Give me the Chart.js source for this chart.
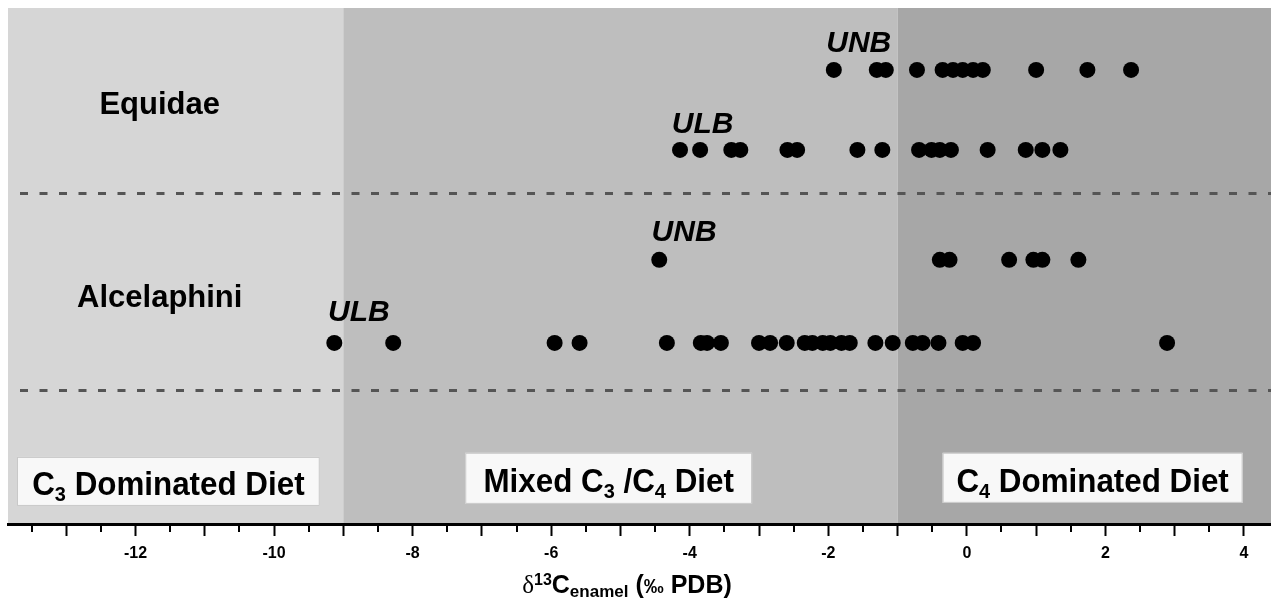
<!DOCTYPE html>
<html>
<head>
<meta charset="utf-8">
<script src="https://cdn.jsdelivr.net/npm/chart.js@4.4.1/dist/chart.umd.min.js"></script>
<style>
  html, body { margin: 0; padding: 0; background: #fff; }
  canvas { display: block; }
</style>
</head>
<body>
<canvas id="chart" width="1271" height="602"></canvas>
<script>
// d13C enamel values (per mil PDB)
const categories = ['Equidae UNB', 'Equidae ULB', 'Alcelaphini UNB', 'Alcelaphini ULB'];
const rowY = [8.8, 7.25, 5.12, 3.51];

const equidaeUNB = [-1.92, -1.30, -1.17, -0.72, -0.35, -0.20, -0.06, 0.09, 0.23, 1.00, 1.74, 2.37];
const equidaeULB = [-4.14, -3.85, -3.40, -3.27, -2.59, -2.45, -1.58, -1.22, -0.69, -0.51, -0.39, -0.23, 0.30, 0.85, 1.09, 1.35];
const alcelaphiniUNB = [-4.44, -0.39, -0.25, 0.61, 0.96, 1.09, 1.61];
const alcelaphiniULB = [-9.13, -8.28, -5.95, -5.59, -4.33, -3.84, -3.75, -3.55, -3.00, -2.84, -2.60, -2.34, -2.23, -2.08, -1.97, -1.81, -1.69, -1.32, -1.07, -0.78, -0.64, -0.41, -0.06, 0.09, 2.89];

const series = [equidaeUNB, equidaeULB, alcelaphiniUNB, alcelaphiniULB];

const xMin = -13.84, xMax = 4.39;
const xTicks = [-13, -12, -11, -10, -9, -8, -7, -6, -5, -4, -3, -2, -1, 0, 1, 2, 3, 4];
const xTickLabels = [-12, -10, -8, -6, -4, -2, 0, 2, 4];

// diet zones
const zoneEdges = [xMin, -9, -1, xMax];
const zoneColors = ['#d6d6d6', '#bebebe', '#a7a7a7'];
const dividerY = [6.41, 2.60];

const FONT = '"Liberation Sans", Arial, sans-serif';

// draws a run of text pieces (for sub/superscripts) centred on x
function drawRich(ctx, parts, cx, cy, squeeze) {
  squeeze = squeeze || 1;
  let total = 0;
  parts.forEach(p => {
    ctx.font = p.font;
    p.w = ctx.measureText(p.t).width;
    total += p.w;
  });
  ctx.save();
  ctx.translate(cx, cy);
  ctx.scale(squeeze, 1);
  let x = -total / 2;
  ctx.textAlign = 'left';
  ctx.textBaseline = 'alphabetic';
  parts.forEach(p => {
    ctx.font = p.font;
    ctx.fillText(p.t, x, p.dy || 0);
    x += p.w;
  });
  ctx.restore();
}

const backdrop = {
  id: 'backdrop',
  beforeDraw(chart) {
    const { ctx, chartArea: a, scales: { x, y } } = chart;
    ctx.save();
    ctx.fillStyle = '#fff';
    ctx.fillRect(0, 0, chart.width, chart.height);
    for (let i = 0; i < zoneColors.length; i++) {
      const x0 = x.getPixelForValue(zoneEdges[i]);
      const x1 = x.getPixelForValue(zoneEdges[i + 1]);
      ctx.fillStyle = zoneColors[i];
      ctx.fillRect(x0, a.top, x1 - x0, a.bottom - a.top);
    }
    // dashed separators
    ctx.strokeStyle = '#555';
    ctx.lineWidth = 3;
    ctx.setLineDash([8, 11.5]);
    dividerY.forEach(v => {
      const py = Math.round(y.getPixelForValue(v)) + 0.5;
      ctx.beginPath();
      ctx.moveTo(a.left + 12, py);
      ctx.lineTo(a.right, py);
      ctx.stroke();
    });
    ctx.setLineDash([]);

    // diet boxes
    const boxes = [
      { x0: -13.71, x1: -9.34, y0: 1.30, y1: 0.35,
        parts: [['C', 33], ['3', 21, 6], [' Dominated Diet', 33]] },
      { x0: -7.24, x1: -3.10, y0: 1.38, y1: 0.39,
        parts: [['Mixed C', 33], ['3', 21, 6], [' /C', 33], ['4', 21, 6], [' Diet', 33]] },
      { x0: -0.35, x1: 3.98, y0: 1.38, y1: 0.41,
        parts: [['C', 33], ['4', 21, 6], [' Dominated Diet', 33]] }
    ];
    boxes.forEach(b => {
      const bx0 = x.getPixelForValue(b.x0), bx1 = x.getPixelForValue(b.x1);
      const by0 = y.getPixelForValue(b.y0), by1 = y.getPixelForValue(b.y1);
      ctx.fillStyle = '#f8f8f8';
      ctx.fillRect(bx0, by0, bx1 - bx0, by1 - by0);
      ctx.strokeStyle = '#c8c8c8';
      ctx.lineWidth = 1;
      ctx.strokeRect(bx0 + 0.5, by0 + 0.5, bx1 - bx0 - 1, by1 - by0 - 1);
      ctx.fillStyle = '#000';
      const parts = b.parts.map(p => ({ t: p[0], font: 'bold ' + p[1] + 'px ' + FONT, dy: p[2] || 0 }));
      drawRich(ctx, parts, (bx0 + bx1) / 2, (by0 + by1) / 2 + 14, 0.95);
    });
    ctx.restore();
  },
  afterDatasetsDraw(chart) {
    const { ctx, scales: { x, y } } = chart;
    ctx.save();
    ctx.fillStyle = '#000';
    ctx.textBaseline = 'middle';
    // taxon names
    ctx.font = 'bold 31px ' + FONT;
    ctx.textAlign = 'center';
    ctx.fillText('Equidae', x.getPixelForValue(-11.65), y.getPixelForValue(8.12));
    ctx.fillText('Alcelaphini', x.getPixelForValue(-11.65), y.getPixelForValue(4.38));
    // site labels
    ctx.font = 'italic bold 30px ' + FONT;
    ctx.textAlign = 'left';
    ctx.fillText('UNB', x.getPixelForValue(-2.03), y.getPixelForValue(9.3));
    ctx.fillText('ULB', x.getPixelForValue(-4.26), y.getPixelForValue(7.73));
    ctx.fillText('UNB', x.getPixelForValue(-4.55), y.getPixelForValue(5.64));
    ctx.fillText('ULB', x.getPixelForValue(-9.22), y.getPixelForValue(4.09));
    ctx.restore();
  },
  afterDraw(chart) {
    const { ctx, chartArea: a, scales: { x } } = chart;
    ctx.save();
    // half-unit minor ticks
    ctx.strokeStyle = '#000';
    ctx.lineWidth = 2;
    for (let v = Math.ceil(xMin) - 0.5; v < xMax; v += 1) {
      if (v < xMin) continue;
      const px = Math.round(x.getPixelForValue(v));
      ctx.beginPath();
      ctx.moveTo(px, a.bottom);
      ctx.lineTo(px, a.bottom + 8);
      ctx.stroke();
    }
    // axis title
    ctx.fillStyle = '#000';
    drawRich(ctx, [
      { t: '\u03B4', font: '25px "Liberation Serif", serif' },
      { t: '13', font: 'bold 16px ' + FONT, dy: -8 },
      { t: 'C', font: 'bold 25px ' + FONT },
      { t: 'enamel', font: 'bold 17px ' + FONT, dy: 4 },
      { t: ' (', font: 'bold 25px ' + FONT },
      { t: '\u2030', font: 'bold 20px ' + FONT },
      { t: ' PDB)', font: 'bold 25px ' + FONT }
    ], 627, 593);
    ctx.restore();
  }
};

new Chart(document.getElementById('chart').getContext('2d'), {
  type: 'scatter',
  data: {
    datasets: series.map((vals, i) => ({
      label: categories[i],
      data: vals.map(v => ({ x: v, y: rowY[i] })),
      pointRadius: 8,
      pointHoverRadius: 8,
      backgroundColor: '#000',
      borderWidth: 0
    }))
  },
  options: {
    responsive: false,
    animation: false,
    layout: { autoPadding: false, padding: { left: 8, top: 8, right: 0, bottom: 0 } },
    plugins: {
      legend: { display: false },
      tooltip: { enabled: false }
    },
    scales: {
      x: {
        type: 'linear',
        position: 'bottom',
        min: xMin,
        max: xMax,
        afterBuildTicks: axis => { axis.ticks = xTicks.map(v => ({ value: v })); },
        afterFit: axis => {
          axis.height = 78;
          axis.paddingLeft = 0;
          axis.paddingRight = 0;
        },
        ticks: {
          autoSkip: false,
          maxRotation: 0,
          padding: 8,
          color: '#000',
          font: { family: FONT, size: 16, weight: 'bold' },
          callback: v => xTickLabels.includes(v) ? String(v) : ''
        },
        grid: {
          drawOnChartArea: false,
          drawTicks: true,
          tickLength: 12,
          tickWidth: 2,
          tickColor: '#000'
        },
        border: { display: true, color: '#000', width: 3 }
      },
      y: { display: false, min: 0, max: 10 }
    }
  },
  plugins: [backdrop]
});
</script>
</body>
</html>
